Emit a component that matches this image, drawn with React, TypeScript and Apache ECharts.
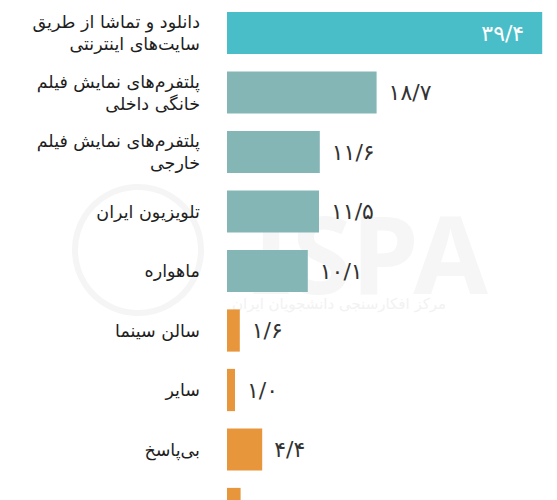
import React, { useEffect, useRef } from "react";
import * as echarts from "echarts";

const categories = [
  "دانلود و تماشا از طریق\nسایت‌های اینترنتی",
  "پلتفرم‌های نمایش فیلم\nخانگی داخلی",
  "پلتفرم‌های نمایش فیلم\nخارجی",
  "تلویزیون ایران",
  "ماهواره",
  "سالن سینما",
  "سایر",
  "بی‌پاسخ",
  "اطلاعی ندارم",
];
const values = [39.4, 18.7, 11.6, 11.5, 10.1, 1.6, 1.0, 4.4, 1.7];
const barColors = [
  "#4abec8",
  "#84b6b6",
  "#84b6b6",
  "#84b6b6",
  "#84b6b6",
  "#e8963c",
  "#e8963c",
  "#e8963c",
  "#e8963c",
];

const toPersian = (v: number) =>
  v
    .toFixed(1)
    .replace(".", "/")
    .replace(/[0-9]/g, (d) => "۰۱۲۳۴۵۶۷۸۹"[Number(d)]);

export default function App() {
  const ref = useRef<HTMLDivElement>(null);
  useEffect(() => {
    if (!ref.current) return;
    const chart = echarts.init(ref.current, undefined, { renderer: "svg" });
    chart.setOption({
      animation: false,
      backgroundColor: "#ffffff",
      grid: { left: 227, top: 3.25, width: 320, height: 535.5 },
      xAxis: {
        type: "value",
        min: 0,
        max: 40,
        show: false,
      },
      yAxis: {
        type: "category",
        inverse: true,
        data: categories,
        axisLine: { show: false },
        axisTick: { show: false },
        splitLine: { show: false },
        axisLabel: {
          margin: 27,
          fontSize: 17.5,
          lineHeight: 22,
          color: "#1e1e1e",
          fontFamily: "DejaVu Sans, Noto Sans, sans-serif",
        },
      },
      graphic: [
        {
          type: "text",
          left: 250,
          top: 198,
          z: -10,
          style: {
            text: "ISPA",
            fontSize: 108,
            fontWeight: "bold",
            fill: "#f6f6f6",
            fontFamily: "Noto Sans, sans-serif",
          },
        },
        {
          type: "text",
          left: 232,
          top: 296,
          z: -10,
          style: {
            text: "مرکز افکارسنجی دانشجویان ایران",
            fontSize: 15,
            fill: "#f2f2f2",
            fontFamily: "DejaVu Sans, sans-serif",
          },
        },
        {
          type: "circle",
          z: -10,
          shape: { cx: 138, cy: 250, r: 63 },
          style: { fill: "none", stroke: "#f5f5f5", lineWidth: 6 },
        },
      ],
      series: [
        {
          type: "bar",
          barCategoryGap: "29%",
          data: values.map((v, i) => ({
            value: v,
            itemStyle: { color: barColors[i] },
            label:
              i === 0
                ? { position: "insideRight", distance: 18, color: "#ffffff" }
                : { position: "right", distance: 12, color: "#333333" },
          })),
          label: {
            show: true,
            fontSize: 22,
            fontFamily: "DejaVu Sans, Noto Sans, sans-serif",
            formatter: (p: any) => toPersian(p.value),
          },
        },
      ],
    });
    return () => chart.dispose();
  }, []);
  return (
    <div
      ref={ref}
      style={{ position: "fixed", left: 0, top: 0, width: 557, height: 545 }}
    />
  );
}
